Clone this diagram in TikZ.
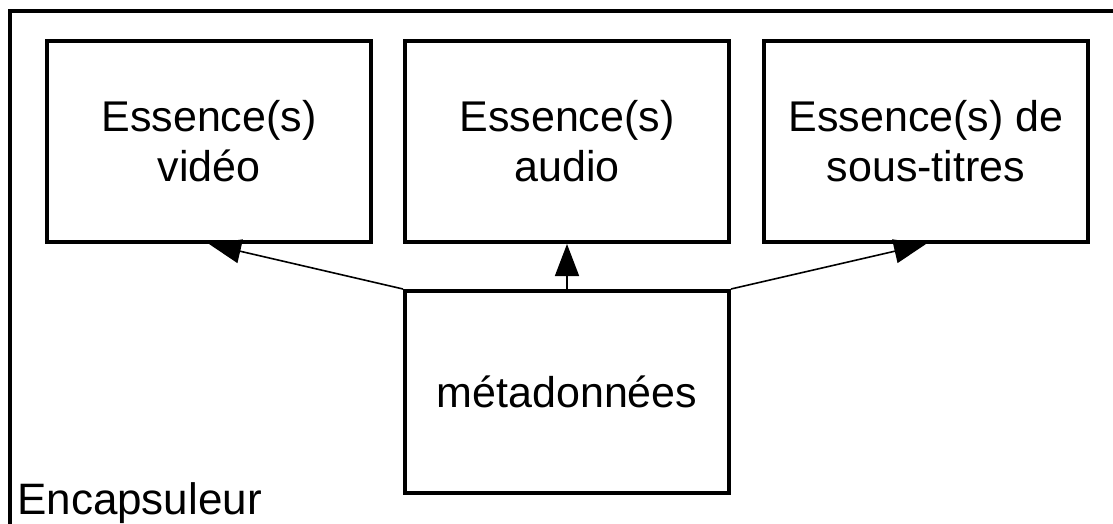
\documentclass[tikz,border=0pt]{standalone}
\usepackage{fontspec}
\setmainfont{Liberation Sans}
\usetikzlibrary{arrows.meta}
\begin{document}
\begin{tikzpicture}[x=1pt,y=1pt,
  box/.style={draw, line width=4pt, minimum width=324pt, minimum height=201pt, align=center, inner sep=0pt,
    font=\fontsize{43}{50}\selectfont},
  conn/.style={line width=1.6pt, -{Triangle[length=32pt,width=24pt]}}]
\useasboundingbox (0,0) rectangle (1113,-524);
\draw[line width=4pt] (10,-524) -- (10,-11) -- (1113,-11);
\node[box] (v) at (209,-141.5) {Essence(s)\\vidéo};
\node[box] (a) at (567,-141.5) {Essence(s)\\audio};
\node[box] (s) at (926,-141.5) {Essence(s) de\\sous-titres};
\node[box, minimum height=202pt] (m) at (567,-392) {métadonnées};
\node[anchor=base west, inner sep=0pt, font=\fontsize{44}{50}\selectfont] (enc) at (17,-514) {Encapsuleur};
\draw[conn] (m.north west) -- (v.south);
\draw[conn] (m.north) -- (a.south);
\draw[conn] (m.north east) -- (s.south);
\end{tikzpicture}
\end{document}
